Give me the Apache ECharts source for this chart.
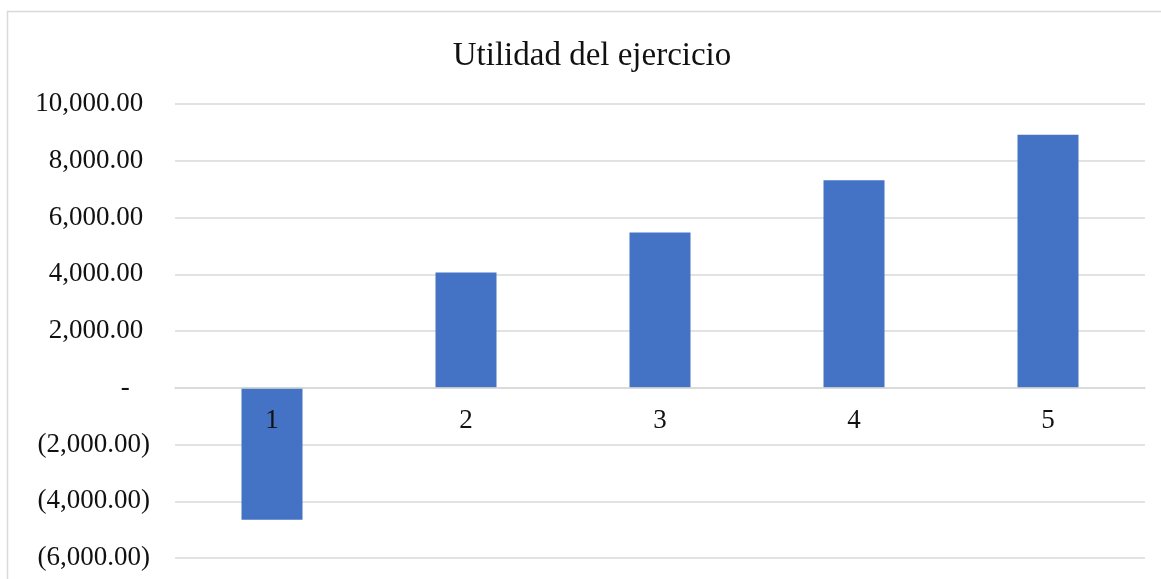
<!DOCTYPE html>
<html>
<head>
<meta charset="utf-8">
<title>Utilidad del ejercicio</title>
<script src="https://cdn.jsdelivr.net/npm/echarts@6/dist/echarts.min.js"></script>
<style>
  html, body { margin: 0; padding: 0; background: #ffffff; }
  #chart { width: 1161px; height: 579px; }
</style>
</head>
<body>
<div id="chart"></div>
<script>
// Periods on the category axis and the yearly result for each one
const periods = ['1', '2', '3', '4', '5'];
const utilidad = [-4650, 4060, 5470, 7310, 8920];

// Value-axis range and step
const yMin = -6000;
const yMax = 10000;
const yStep = 2000;

const serif = '"Liberation Serif", "Times New Roman", serif';

// Plot box
const gridTop = 104;
const gridBottom = 21;
const plotHeight = 579 - gridTop - gridBottom;

// Accounting-style number text: thousands separators, negatives in parentheses, zero as a dash
function accounting(v) {
  if (v === 0) return '-   ';
  const s = Math.abs(v).toLocaleString('en-US', { minimumFractionDigits: 2, maximumFractionDigits: 2 });
  return v < 0 ? '(' + s + ')' : s + ' ';
}

const chart = echarts.init(document.getElementById('chart'), null, { renderer: 'canvas' });

chart.setOption({
  animation: false,
  backgroundColor: '#ffffff',
  title: {
    text: 'Utilidad del ejercicio',
    left: 587,
    textAlign: 'center',
    top: 35,
    textStyle: { fontFamily: serif, fontSize: 33, fontWeight: 'normal', color: '#111111' }
  },
  graphic: [{
    type: 'rect',
    silent: true,
    z: -1,
    shape: { x: 7.5, y: 11.5, width: 1400, height: 800 },
    style: { fill: 'none', stroke: '#d9d9d9', lineWidth: 1.5 }
  }],
  grid: { left: 175, right: 16, top: gridTop, bottom: gridBottom, containLabel: false, outerBoundsMode: 'none' },
  xAxis: {
    type: 'category',
    data: periods,
    z: 10,
    // category axis sits on the zero value line
    offset: -(0 - yMin) / (yMax - yMin) * plotHeight,
    axisLine: { show: true, onZero: false, lineStyle: { color: '#d9d9d9', width: 1.5 } },
    axisTick: { show: false },
    axisLabel: { fontFamily: serif, fontSize: 27, color: '#111111', margin: 20 },
    splitLine: { show: false }
  },
  yAxis: {
    type: 'value',
    min: yMin,
    max: yMax,
    interval: yStep,
    axisLine: { show: false },
    axisTick: { show: false },
    axisLabel: {
      fontFamily: serif,
      fontSize: 27,
      color: '#111111',
      margin: 25,
      formatter: accounting
    },
    splitLine: { show: true, lineStyle: { color: '#d9d9d9', width: 1.5 } }
  },
  series: [{
    type: 'bar',
    data: utilidad,
    barWidth: 61,
    z: 2,
    itemStyle: { color: '#4472c4' }
  }]
});
</script>
</body>
</html>
